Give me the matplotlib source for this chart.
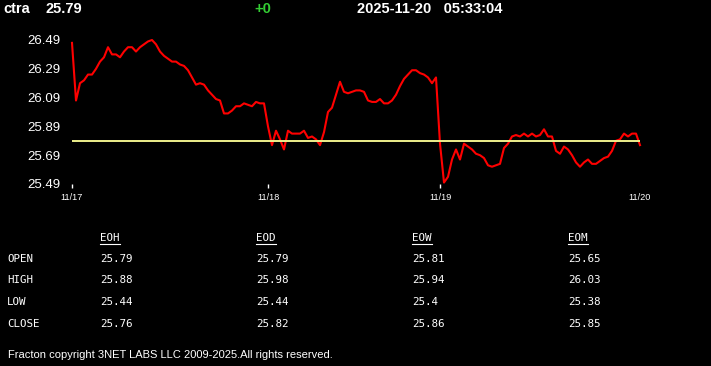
import matplotlib
matplotlib.use('Agg')
import matplotlib.pyplot as plt
from matplotlib.lines import Line2D

symbol = 'ctra'
last_price = 25.79
change = '+0'
stamp = '2025-11-20   05:33:04'

# intraday prices, evenly spaced samples
prices = [
    26.47, 26.07, 26.19, 26.21, 26.25, 26.25, 26.29, 26.34, 26.37, 26.44,
    26.39, 26.39, 26.37, 26.41, 26.44, 26.44, 26.41, 26.44, 26.46, 26.48,
    26.49, 26.46, 26.41, 26.38, 26.36, 26.34, 26.34, 26.32, 26.31, 26.28,
    26.23, 26.18, 26.19, 26.18, 26.14, 26.11, 26.08, 26.07, 25.98, 25.98,
    26.00, 26.03, 26.03, 26.05, 26.04, 26.03, 26.06, 26.05, 26.05, 25.89,
    25.76, 25.86, 25.80, 25.73, 25.86, 25.84, 25.84, 25.84, 25.86, 25.81,
    25.82, 25.80, 25.76, 25.85, 25.99, 26.02, 26.11, 26.20, 26.13, 26.12,
    26.13, 26.14, 26.14, 26.13, 26.07, 26.06, 26.06, 26.08, 26.05, 26.05,
    26.07, 26.11, 26.17, 26.22, 26.25, 26.28, 26.28, 26.26, 26.25, 26.23,
    26.19, 26.23, 25.77, 25.50, 25.54, 25.66, 25.73, 25.66, 25.77, 25.75,
    25.73, 25.70, 25.69, 25.67, 25.62, 25.61, 25.62, 25.63, 25.74, 25.77,
    25.82, 25.83, 25.82, 25.84, 25.82, 25.84, 25.82, 25.83, 25.87, 25.82,
    25.82, 25.72, 25.70, 25.75, 25.73, 25.69, 25.64, 25.61, 25.64, 25.66,
    25.63, 25.63, 25.65, 25.67, 25.68, 25.72, 25.79, 25.80, 25.84, 25.82,
    25.84, 25.84, 25.76,
]
day_index = [0, 49, 92, 142]
day_labels = ['11/17', '11/18', '11/19', '11/20']
y_ticks = [25.49, 25.69, 25.89, 26.09, 26.29, 26.49]

columns = ['EOH', 'EOD', 'EOW', 'EOM']
rows = ['OPEN', 'HIGH', 'LOW', 'CLOSE']
table = {
    'EOH': ['25.79', '25.88', '25.44', '25.76'],
    'EOD': ['25.79', '25.98', '25.44', '25.82'],
    'EOW': ['25.81', '25.94', '25.4', '25.86'],
    'EOM': ['25.65', '26.03', '25.38', '25.85'],
}
footer = 'Fracton copyright 3NET LABS LLC 2009-2025.All rights reserved.'

W, H = 711, 366
fig = plt.figure(figsize=(W / 100, H / 100), dpi=100, facecolor='black')


def fx(px):
    return px / W


def fy(py):
    return 1 - py / H


ax = fig.add_axes([fx(72), fy(184), fx(640) - fx(72), fy(40) - fy(184)])
ax.set_facecolor('black')
for s in ax.spines.values():
    s.set_visible(False)

ax.plot(range(len(prices)), prices, color='#ff0000', lw=1.5, clip_on=False)
ax.axhline(last_price, color='#eef08c', lw=1.4)
ax.set_xlim(0, len(prices) - 1)
ax.set_ylim(y_ticks[0], y_ticks[-1])

ax.set_yticks(y_ticks)
ax.set_yticklabels(['%.2f' % v for v in y_ticks])
ax.tick_params(axis='y', length=0, pad=8, labelcolor='white', labelsize=9.5)
for lab in ax.get_yticklabels():
    lab.set_family('Liberation Sans')

ax.set_xticks(day_index)
ax.set_xticklabels(day_labels)
ax.tick_params(axis='x', length=3, width=1, color='white', pad=3.5,
               labelcolor='white', labelsize=6.6)
for lab in ax.get_xticklabels():
    lab.set_family('Liberation Sans')
ax.xaxis.get_major_ticks()[-1].tick1line.set_visible(False)

# header
hdr = dict(color='white', fontsize=10.5, fontweight='bold',
           family='Liberation Sans', va='center', ha='left')
fig.text(fx(3), fy(9), symbol, **hdr)
fig.text(fx(45), fy(9), '%.2f' % last_price, **hdr)
fig.text(fx(254), fy(9), change, **{**hdr, 'color': '#33cc33'})
fig.text(fx(357), fy(9), stamp, **hdr)

# summary table
mono = dict(color='white', fontsize=7.8, family='DejaVu Sans Mono',
            va='center', ha='left')
col_x = [100, 256, 412, 568]
row_y = [259, 280, 302, 324]
heads = []
for cx, name in zip(col_x, columns):
    heads.append(fig.text(fx(cx), fy(238), name, **mono))
    for ry, val in zip(row_y, table[name]):
        fig.text(fx(cx), fy(ry), val, **mono)
for ry, name in zip(row_y, rows):
    fig.text(fx(7), fy(ry), name, **mono)

fig.canvas.draw()
for t in heads:
    bb = t.get_window_extent()
    fig.add_artist(Line2D([bb.x0, bb.x1], [bb.y0 - 1, bb.y0 - 1],
                          transform=None, color='white', lw=0.8))

fig.text(fx(8), fy(355), footer, color='white', fontsize=8.0,
         family='Liberation Sans', va='center', ha='left')

fig.savefig('out.png', dpi=100, facecolor='black')
